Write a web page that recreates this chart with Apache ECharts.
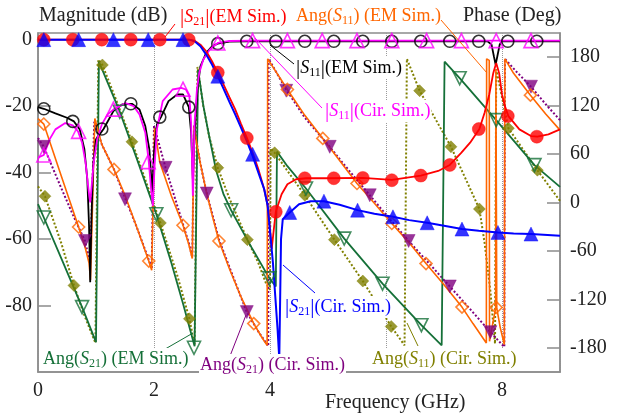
<!DOCTYPE html>
<html><head><meta charset="utf-8">
<script src="https://cdn.jsdelivr.net/npm/echarts@6/dist/echarts.min.js"></script>
<style>html,body{margin:0;padding:0;background:#fff}#c{width:632px;height:415px}</style>
</head><body><div id="c"></div>
<script>
// ---------------- DATA (frequency GHz, value) ----------------
const xTickLabels = [0, 2, 4, 8];
const magTicks = [-80, -60, -40, -20, 0];
const phaseTicks = [-180, -120, -60, 0, 60, 120, 180];

// |S21| EM (dB)
const s21EmLine = [[0,0],[2.6,0],[2.7,-0.3],[2.8,-1.5],[2.9,-3.5],[3.0,-6.5],[3.1,-9.9],[3.2,-13.5],[3.3,-17.3],[3.4,-21],[3.5,-25.3],[3.6,-29.5],[3.7,-34],[3.8,-39],[3.9,-45],[3.96,-50],[4.0,-57],[4.03,-63],[4.06,-58],[4.1,-51.8],[4.2,-46.5],[4.3,-43.5],[4.45,-42],[4.62,-41.7],[5.0,-41.7],[5.6,-41.6],[6.1,-42.2],[6.6,-40.9],[6.9,-39.5],[7.1,-37.7],[7.3,-34],[7.45,-31],[7.61,-26.9],[7.7,-22],[7.78,-16.5],[7.85,-10],[7.9,-7],[7.95,-10],[8.0,-16.5],[8.05,-20],[8.11,-23],[8.3,-27],[8.5,-29],[8.61,-29.2],[8.8,-28.5],[9,-27]];
const s21EmMarks = [[0.1,0],[0.6,0],[1.1,0],[1.6,0],[2.1,0],[2.6,0],[3.1,-9.9],[3.6,-29.6],[4.1,-51.8],[4.6,-41.7],[5.1,-41.7],[5.6,-41.6],[6.1,-42.3],[6.6,-40.9],[7.1,-37.7],[7.6,-26.9],[8.1,-23],[8.6,-29.2]];

// |S21| circuit (dB)
const s21CirLine = [[0,0],[2.6,0],[2.7,-0.5],[2.8,-2],[2.9,-4.5],[3.0,-7.5],[3.1,-11],[3.2,-14.8],[3.3,-18.7],[3.4,-22.5],[3.5,-26.5],[3.6,-30.5],[3.7,-35],[3.8,-40],[3.9,-45],[3.96,-50],[4.05,-67],[4.13,-87],[4.16,-96],[4.18,-96],[4.19,-60],[4.22,-54],[4.34,-52],[4.5,-49.5],[4.7,-48.6],[4.93,-48.6],[5.2,-49.7],[5.51,-51.3],[5.8,-52.4],[6.12,-53.3],[6.4,-54.3],[6.71,-55.1],[7.0,-56],[7.31,-57],[7.6,-57.5],[7.93,-58],[8.2,-58.3],[8.5,-58.5],[9,-59]];
const s21CirMarks = [[0.1,0],[0.7,0],[1.3,0],[1.9,0],[2.5,0],[3.1,-11],[3.7,-34.5],[4.34,-52],[4.93,-48.6],[5.51,-51.3],[6.12,-53.3],[6.71,-55.1],[7.31,-57],[7.93,-58],[8.5,-58.5]];

// |S11| EM (dB)
const s11EmLine = [[0,-20.3],[0.1,-20.8],[0.3,-22.2],[0.5,-23.5],[0.62,-24.6],[0.72,-27],[0.8,-33],[0.85,-42],[0.88,-56],[0.9,-73],[0.92,-55],[0.95,-38],[1.0,-30],[1.13,-26.9],[1.3,-21.5],[1.45,-19.5],[1.62,-19.3],[1.75,-21],[1.85,-26],[1.92,-33],[1.97,-46],[2.0,-34],[2.05,-25.5],[2.12,-23.3],[2.25,-18.5],[2.4,-16.5],[2.5,-16.5],[2.6,-20.3],[2.64,-28],[2.67,-42],[2.7,-28],[2.75,-15],[2.8,-8],[2.9,-4],[3.0,-2],[3.1,-1.2],[3.3,-0.6],[3.6,-0.5],[7.75,-0.5],[7.82,-1.5],[7.86,-5],[7.89,-7.5],[7.92,-5],[7.96,-1.5],[8.0,-0.5],[9,-0.5]];
const s11EmMarks = [[0.1,-20.8],[0.6,-24.6],[1.1,-26.9],[1.6,-19.3],[2.1,-23.3],[2.6,-20.3],[3.1,-1.2],[3.6,-0.5],[4.1,-0.5],[4.6,-0.5],[5.1,-0.5],[5.6,-0.5],[6.1,-0.5],[6.6,-0.5],[7.1,-0.5],[7.6,-0.5],[8.1,-0.5],[8.6,-0.5]];

// |S11| circuit (dB)
const s11CirLine = [[0,-35.5],[0.1,-34.7],[0.2,-30],[0.3,-27],[0.47,-25.1],[0.6,-25.8],[0.69,-27.6],[0.76,-31],[0.82,-37],[0.87,-45],[0.9,-49],[0.93,-43],[0.96,-37],[1.02,-30],[1.1,-25.5],[1.2,-22.5],[1.31,-20.9],[1.51,-19.1],[1.65,-20],[1.75,-22.5],[1.85,-28],[1.91,-36.7],[1.95,-45],[1.98,-50],[2.01,-38],[2.05,-27],[2.15,-18.5],[2.32,-15],[2.47,-14.5],[2.55,-15],[2.61,-17],[2.64,-25],[2.67,-47],[2.7,-25],[2.74,-15],[2.78,-10],[2.85,-6],[2.96,-3],[3.1,-1],[3.3,-0.4],[3.7,-0.3],[9,-0.3]];
const s11CirMarks = [[0.1,-34.7],[0.7,-27.6],[1.3,-20.9],[1.9,-36.7],[2.5,-14.9],[3.1,-1],[3.7,-0.3],[4.3,-0.3],[4.9,-0.3],[5.5,-0.3],[6.1,-0.3],[6.7,-0.3],[7.3,-0.3],[7.9,-0.3],[8.5,-0.3]];

// Ang(S11) EM (deg)
const a11EmLine = [[0,104],[0.1,97.2],[0.4,33],[0.7,-30.3],[0.8,-52],[0.88,-75],[0.905,-96],[0.98,104],[1.1,72],[1.31,41],[1.5,9],[1.7,-30],[1.91,-72.5],[1.96,-84],[2.01,92],[2.1,50],[2.3,8],[2.5,-28.2],[2.6,-52],[2.66,-69.5],[2.69,94],[2.75,68],[2.8,48],[2.9,14],[3.0,-15],[3.12,-47.7],[3.3,-82],[3.5,-117],[3.72,-150],[3.85,-166],[3.95,-177],[3.96,178],[4.3,140],[4.6,108],[4.91,79.4],[5.2,52],[5.5,23.6],[5.8,-1],[6.1,-26],[6.4,-50],[6.69,-75.7],[7.0,-102],[7.31,-129.6],[7.5,-150],[7.73,-174],[7.735,178],[7.78,176],[7.785,-172],[7.84,-150],[7.89,-131],[7.895,165],[7.905,165],[7.91,-131],[7.97,-155],[8.04,-176],[8.05,178],[8.2,160],[8.49,133],[8.75,110],[9,89.7]];
const a11EmMarks = [[0.1,97.2],[0.7,-30.3],[1.31,41],[1.91,-72.5],[2.5,-28.2],[3.12,-47.7],[3.72,-150],[4.3,140],[4.91,79.4],[5.5,23.6],[6.1,-26],[6.69,-75.7],[7.31,-129.6],[7.9,-130],[8.49,133]];

// Ang(S11) circuit (deg)
const a11CirLine = [[0,20],[0.12,7.8],[0.4,-50],[0.62,-102.7],[0.8,-140],[0.99,-174],[1.0,-176],[1.04,177],[1.11,170.4],[1.3,136],[1.62,75.2],[1.9,18],[2.11,-25.3],[2.4,-90],[2.61,-144],[2.7,-176],[2.72,-178],[2.75,168],[2.85,120],[2.95,82],[3.1,43],[3.3,5],[3.61,-46],[3.8,-75],[3.93,-100],[4.0,-108],[4.01,67],[4.08,61.6],[4.6,9],[5.11,-46],[5.6,-97.3],[6.09,-153.6],[6.32,-177],[6.34,-178],[6.36,178],[6.58,138.5],[7.12,69],[7.61,-8],[7.7,-50],[7.8,-110],[7.86,-160],[7.88,-175],[7.9,165],[7.95,148],[8.11,92],[8.61,40],[9,2]];
const a11CirMarks = [[0.12,7.8],[0.62,-102.7],[1.11,170.4],[1.62,75.2],[2.11,-25.3],[2.61,-144],[3.1,43],[3.61,-46],[4.08,61.6],[4.6,9],[5.11,-46],[5.6,-97.3],[6.09,-153.6],[6.58,138.5],[7.12,69],[7.61,-8],[8.11,92],[8.61,40]];

// Ang(S21) EM (deg)
const a21EmLine = [[0,-2],[0.1,-18.6],[0.4,-69],[0.76,-129.6],[1.0,-173],[1.05,174.5],[1.41,112.5],[1.7,55],[2.04,-14.5],[2.3,-75],[2.5,-125],[2.7,-178],[2.76,164],[2.85,120],[2.93,90],[3.07,40],[3.2,10],[3.33,-9.6],[3.5,-32],[3.7,-58],[3.99,-94],[4.1,-104],[4.12,63],[4.3,45],[4.62,17.4],[5.28,-44.7],[5.94,-100.6],[6.61,-152],[6.96,-177],[7.01,174.5],[7.27,154],[7.9,102],[8.56,46.3],[9,19.4]];
const a21EmMarks = [[0.1,-18.6],[0.76,-129.6],[1.41,112.5],[2.04,-14.5],[2.69,-180],[3.33,-9.6],[3.99,-94],[4.62,17.4],[5.28,-44.7],[5.94,-100.6],[6.61,-152],[7.27,154],[7.9,102],[8.56,46.3]];

// Ang(S21) circuit (deg)
const a21CirLine = [[0,80],[0.1,69],[0.4,18],[0.6,-15],[0.81,-47.7],[0.9,-75],[0.97,100],[1.1,72],[1.31,41],[1.5,6],[1.7,-30],[1.91,-71],[1.96,-82],[2.0,95],[2.2,43],[2.5,-27],[2.6,-50],[2.66,-68],[2.69,96],[2.75,68],[2.8,48],[2.91,11],[3.0,-13],[3.12,-46],[3.3,-80],[3.6,-135.8],[3.8,-160],[3.97,-178],[3.975,178],[4.28,140],[4.6,105],[5.03,69],[5.3,45],[5.72,9],[6.0,-15],[6.39,-47.7],[6.75,-76],[7.1,-104],[7.45,-132],[7.8,-160.6],[8.04,-179],[8.05,178],[8.25,162],[8.5,143.5],[8.75,122],[9,102]];
const a21CirMarks = [[0.1,69],[0.81,-47.7],[1.5,4],[2.2,43],[2.91,11.2],[3.6,-135.8],[4.28,138.5],[5.03,69],[5.72,9],[6.39,-47.7],[7.1,-104],[7.8,-160.6],[8.5,143.5]];

// ---------------- FONT PICK ----------------
function pickFont(cands) {
  const cv = document.createElement('canvas').getContext('2d');
  const probe = 'MagnitudeFrequency (GHz) 0123456789 iiillWWmm';
  for (const f of cands) {
    for (const base of ['monospace', 'sans-serif']) {
      cv.font = "40px " + base; const w0 = cv.measureText(probe).width;
      cv.font = "40px '" + f + "', " + base; const w1 = cv.measureText(probe).width;
      if (Math.abs(w1 - w0) > 0.5) return f;
    }
  }
  return 'serif';
}
const FONT = pickFont(['Liberation Serif', 'Times New Roman', 'Tinos', 'DejaVu Serif', 'Noto Serif', 'FreeSerif', 'Nimbus Roman', 'serif']);

const C = {red:'#ff0000', blue:'#0000ff', black:'#000000', mag:'#ff00ff', orange:'#ff6600', olive:'#808000', green:'#157038', purple:'#7f007f'};
const AX = '#8c8c8c';

function lineS(data, yi, color, width, type) {
  return {type:'line', data, xAxisIndex:0, yAxisIndex:yi, symbol:'none', smooth:false,
    lineStyle:{color, width, type: type||'solid'}, silent:true, animation:false};
}
function markS(data, yi, symbol, size, color, filled, rotate) {
  return {type:'scatter', data, xAxisIndex:0, yAxisIndex:yi, symbol, symbolSize:size, symbolRotate: rotate||0,
    itemStyle: filled ? {color, borderColor:color, borderWidth:0.5} : {color:'rgba(255,255,255,0)', borderColor:color, borderWidth:1.6},
    silent:true, animation:false, z:3};
}

const series = [
  lineS(a11CirLine,1,C.olive,2,'dotted'),
  lineS(a21CirLine,1,C.purple,2,'dotted'),
  lineS(a21EmLine,1,C.green,1.8),
  lineS(a11EmLine,1,C.orange,1.6),
  lineS(s11EmLine,0,C.black,1.8),
  lineS(s11CirLine,0,C.mag,1.8),
  lineS(s21EmLine,0,C.red,1.8),
  lineS(s21CirLine,0,C.blue,2),
  markS(a11CirMarks,1,'diamond',12,C.olive,true),
  markS(a21CirMarks,1,'triangle',13,C.purple,true,180),
  markS(a21EmMarks,1,'triangle',13,C.green,false,180),
  markS(a11EmMarks,1,'diamond',12,C.orange,false),
  markS(s11EmMarks,0,'circle',12,C.black,false),
  markS(s11CirMarks,0,'triangle',14,C.mag,false),
  markS(s21EmMarks,0,'circle',13,C.red,true),
  markS(s21CirMarks,0,'triangle',14,C.blue,true)
];

function rich(parts, color, size) {
  const sub = Math.round(size*0.68);
  return {
    text: parts.map(p => '{' + p[0] + '|' + p[1] + '}').join(''),
    rich: {
      n:{fontFamily:FONT, fontSize:size, fill:color, lineHeight:size+4},
      b:{fontFamily:FONT, fontSize:size+3, fill:color, lineHeight:size+4},
      i:{fontFamily:FONT, fontSize:size, fontStyle:'italic', fill:color, lineHeight:size+4},
      s:{fontFamily:FONT, fontSize:sub, fill:color, lineHeight:sub-1, verticalAlign:'bottom'}
    }
  };
}
function label(x, y, parts, color, size, bg) {
  const r = rich(parts, color, size);
  return {type:'text', x, y, z:50, silent:true, style:{
    text:r.text, rich:r.rich, fill:color, fontFamily:FONT, fontSize:size, verticalAlign:'middle', align:'left',
    backgroundColor: bg ? '#ffffff' : null, padding: bg ? [0,1,0,1] : 0
  }};
}
function leader(x1,y1,x2,y2,color){
  return {type:'line', z:40, silent:true, shape:{x1,y1,x2,y2}, style:{stroke:color, lineWidth:1}};
}

const graphics = [
  leader(175,24,165,37,C.red),
  leader(441,20,487,73,C.orange),
  leader(294,64,270,45,C.black),
  leader(322,108,255,38,C.mag),
  leader(315,293,283,265,C.blue),
  leader(160,352,193,333,C.green),
  leader(230,356,246,315,C.purple),
  leader(418,346,407,323,C.olive),
  label(39,16,[['n','Magnitude (dB)']],'#222',20,false),
  label(180,17,[['b','|'],['i','S'],['s','21'],['b','|'],['n','(EM Sim.)']],C.red,18,false),
  label(296,16,[['n','Ang('],['i','S'],['s','11'],['n',') (EM Sim.)']],C.orange,18,false),
  label(463,16,[['n','Phase (Deg)']],'#222',20,false),
  label(295,68,[['b','|'],['i','S'],['s','11'],['b','|'],['n','(EM Sim.)']],C.black,18,true),
  label(324,111,[['b','|'],['i','S'],['s','11'],['b','|'],['n','(Cir. Sim.)']],C.mag,18,true),
  label(284,307,[['b','|'],['i','S'],['s','21'],['b','|'],['n','(Cir. Sim.)']],C.blue,18,true),
  label(42,359,[['n','Ang('],['i','S'],['s','21'],['n',') (EM Sim.)']],C.green,18,true),
  label(199,365,[['n','Ang('],['i','S'],['s','21'],['n',') (Cir. Sim.)']],C.purple,18,true),
  label(371,359,[['n','Ang('],['i','S'],['s','11'],['n',') (Cir. Sim.)']],C.olive,18,true),
  label(325,403,[['n','Frequency (GHz)']],'#222',20,false)
];

const chart = echarts.init(document.getElementById('c'), null, {renderer:'canvas'});
chart.setOption({
  animation:false,
  backgroundColor:'#fff',
  textStyle:{fontFamily:FONT},
  grid:{left:38, right:72, top:33, bottom:43, show:true, borderColor:AX, borderWidth:1.5, backgroundColor:'rgba(0,0,0,0)'},
  xAxis:{type:'value', min:0, max:9, interval:2,
    axisLine:{show:true, onZero:false, lineStyle:{color:AX, width:1.5}},
    axisTick:{show:false},
    splitLine:{show:true, lineStyle:{color:'#9a9a9a', width:1, type:'dotted'}},
    axisLabel:{margin:9, fontFamily:FONT, fontSize:20, color:'#222',
      formatter:v => xTickLabels.includes(v) ? String(v) : ''}
  },
  yAxis:[
    {type:'value', min:-100, max:2, position:'left',
      axisLine:{show:true, onZero:false, lineStyle:{color:AX, width:1.5}},
      axisTick:{show:true, inside:true, length:13, customValues:magTicks, lineStyle:{color:AX, width:1.5}},
      splitLine:{show:false},
      axisLabel:{customValues:magTicks, margin:6, fontFamily:FONT, fontSize:20, color:'#222'}
    },
    {type:'value', min:-210, max:210, position:'right',
      axisLine:{show:true, onZero:false, lineStyle:{color:AX, width:1.5}},
      axisTick:{show:true, inside:true, length:13, customValues:phaseTicks, lineStyle:{color:AX, width:1.5}},
      splitLine:{show:false},
      axisLabel:{customValues:phaseTicks, margin:10, fontFamily:FONT, fontSize:20, color:'#222'}
    }
  ],
  series,
  graphic:graphics
});
</script></body></html>
